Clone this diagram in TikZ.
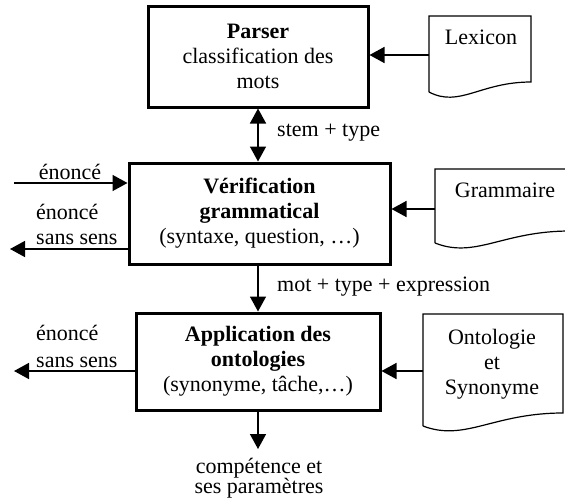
\documentclass[tikz,border=0pt]{standalone}
\usepackage{fontspec}
\setmainfont{Liberation Serif}
\usepackage{tikz}
\usetikzlibrary{arrows.meta,calc}

\tikzset{
  every node/.style={font=\fontsize{22}{25}\selectfont, inner sep=0pt},
  procbox/.style={draw, line width=3pt, align=center},
  docline/.style={draw, line width=1.2pt},
  arr/.style={line width=1.5pt, -{Triangle[length=15pt,width=16pt]}},
  darr/.style={line width=1.5pt, {Triangle[length=15pt,width=16pt]}-{Triangle[length=15pt,width=16pt]}}
}

% document sheet: left, right, top, bottom at right, bottom at left
\newcommand{\docsheet}[5]{%
  \draw[docline] (#1,#5) -- (#1,#3) -- (#2,#3) -- (#2,#4)
    .. controls ({#1+0.5*(#2-#1)},#4) and ({#1+0.3*(#2-#1)},#5+16) .. (#1,#5);
}

\begin{document}
\begin{tikzpicture}[x=1pt,y=-1pt]
  \useasboundingbox (0,0) rectangle (565,501);

  % Processing boxes
  \node[procbox, minimum width=220pt, minimum height=101pt] (parser) at (258,56.5)
    {\textbf{Parser}\\classification des\\mots};
  \node[procbox, minimum width=261pt, minimum height=101pt] (verif) at (259.5,213.5)
    {\textbf{Vérification}\\\textbf{grammatical}\\(syntaxe, question, …)};
  \node[procbox, minimum width=244pt, minimum height=97pt] (appl) at (258,361.5)
    {\textbf{Application des}\\\textbf{ontologies}\\(synonyme, tâche,…)};

  % Documents
  \docsheet{429}{531}{16}{82}{92}
  \docsheet{435}{570}{169}{231}{243}
  \docsheet{423}{563}{314}{413}{426}
  \node (lex) at (481,37) {Lexicon};
  \node (gram) at (505,190.5) {Grammaire};
  \node[align=center] (onto) at (492,364.5) {Ontologie\\et\\Synonyme};
  \coordinate (lexL) at (429,55);
  \coordinate (gramL) at (435,209);
  \coordinate (ontoL) at (423,371);

  % Inputs from documents
  \draw[arr] (lexL) -- (lexL -| parser.east);
  \draw[arr] (gramL) -- (gramL -| verif.east);
  \draw[arr] (ontoL) -- (ontoL -| appl.east);

  % Vertical flow
  \draw[darr] (parser.south) -- (parser.south |- verif.north);
  \node[anchor=west] (lstem) at (277,133) {stem + type};
  \draw[arr] (verif.south -| parser.south) -- (parser.south |- appl.north);
  \node[anchor=west] (lmot) at (277,287) {mot + type + expression};
  \coordinate (out) at (258,449);
  \draw[arr] (appl.south) -- (out);
  \node[align=center] (result) at (259,478.5) {compétence et\\[-5pt]ses paramètres};

  % Left side inputs / rejects
  \coordinate (in) at (14,183);
  \draw[arr] (in) -- (in -| verif.west);
  \node (lin) at (70,172) {énoncé};
  \coordinate (rej1) at (10,249);
  \draw[arr] (rej1 -| verif.west) -- (rej1);
  \node[align=left, anchor=west] (lrej1) at (36,224.5) {énoncé\\sans sens};
  \coordinate (rej2) at (14,371);
  \draw[arr] (rej2 -| appl.west) -- (rej2);
  \node[align=left, anchor=west] (lrej2) at (36,346) {énoncé\\[2pt]sans sens};
\end{tikzpicture}
\end{document}
